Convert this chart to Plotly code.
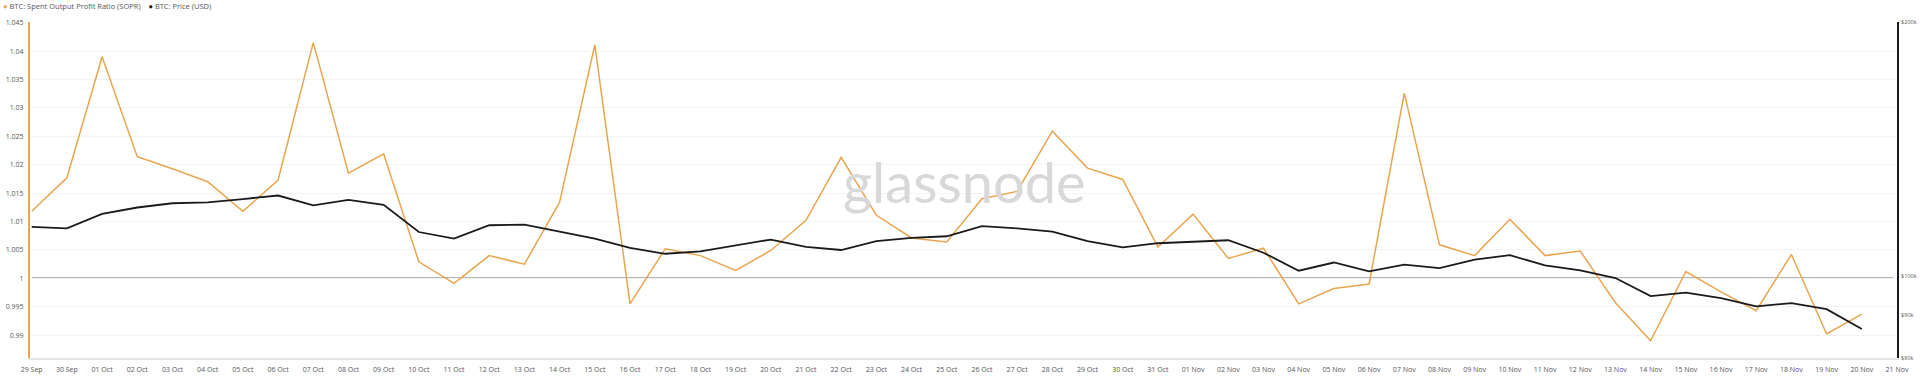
import plotly.graph_objects as go
import pandas as pd
import math

dates = pd.date_range("2025-09-29", "2025-11-20", freq="D")

sopr = [1.0118, 1.0177, 1.0390, 1.0214, 1.0193, 1.0170, 1.0118, 1.0173, 1.0415,
        1.0185, 1.0219, 1.0029, 0.9991, 1.0040, 1.0025, 1.0134, 1.0411, 0.9955,
        1.0052, 1.0040, 1.0014, 1.0049, 1.0102, 1.0213, 1.0111, 1.0071, 1.0064,
        1.0140, 1.0153, 1.0259, 1.0194, 1.0174, 1.0055, 1.0113, 1.0035, 1.0053,
        0.9955, 0.9982, 0.9990, 1.0326, 1.0059, 1.0040, 1.0104, 1.0040, 1.0048,
        0.9957, 0.9890, 1.0012, 0.9976, 0.9943, 1.0042, 0.9902, 0.9937]

price = [114400, 113900, 118500, 120600, 122000, 122300, 123400, 124600, 121300,
         123100, 121500, 112800, 110800, 114900, 115100, 112900, 110800, 108000,
         106300, 107000, 108800, 110500, 108300, 107400, 110000, 111000, 111500,
         114600, 113900, 112900, 110000, 108200, 109400, 109900, 110300, 106600,
         101500, 103800, 101300, 103200, 102200, 104600, 105900, 103000, 101600,
         99500, 94700, 95600, 94200, 92100, 92900, 91400, 86600]

sopr_ticks = [0.99, 0.995, 1.0, 1.005, 1.01, 1.015, 1.02, 1.025, 1.03, 1.035, 1.04, 1.045]
sopr_tick_text = ["0.99", "0.995", "1", "1.005", "1.01", "1.015", "1.02", "1.025",
                  "1.03", "1.035", "1.04", "1.045"]
price_ticks = [80000, 90000, 100000, 200000]
price_tick_text = ["$80k", "$90k", "$100k", "$200k"]

ORANGE = "#e9a54e"
BLACK = "#1a1a1a"
FONT = "Open Sans"

fig = go.Figure()
fig.add_trace(go.Scatter(x=dates, y=sopr, mode="lines", name="BTC: Spent Output Profit Ratio (SOPR)",
                         line=dict(color=ORANGE, width=1.5), yaxis="y", showlegend=False))
fig.add_trace(go.Scatter(x=dates, y=price, mode="lines", name="BTC: Price (USD)",
                         line=dict(color=BLACK, width=1.8), yaxis="y2", showlegend=False))

fig.add_shape(type="line", xref="paper", yref="y", x0=0.001, x1=0.998, y0=1, y1=1,
              line=dict(color="#6b6b6b", width=1.5), layer="below")

fig.update_layout(
    width=1920, height=380,
    margin=dict(l=30, r=23, t=22, b=22, autoexpand=False),
    paper_bgcolor="white", plot_bgcolor="white",
    font=dict(family=FONT, size=7, color="#555555"),
    xaxis=dict(
        range=[pd.Timestamp("2025-09-28 22:50"), pd.Timestamp("2025-11-21 00:00")],
        tickvals=pd.date_range("2025-09-29", "2025-11-21", freq="D"),
        tickformat="%d %b", automargin=False,
        showgrid=False, showline=True, linecolor="#e4e4e4", linewidth=2,
        ticks="outside", ticklen=4, tickcolor="rgba(0,0,0,0)",
        tickfont=dict(size=7, color="#555555"), zeroline=False,
    ),
    yaxis=dict(
        range=[0.98597, 1.04513], automargin=False,
        tickvals=sopr_ticks, ticktext=sopr_tick_text,
        showgrid=True, gridcolor="#f3f3f3", gridwidth=1,
        showline=True, linecolor=ORANGE, linewidth=2,
        ticks="outside", ticklen=3, tickcolor="rgba(0,0,0,0)",
        tickfont=dict(size=7, color="#555555"), zeroline=False,
    ),
    yaxis2=dict(
        type="log", overlaying="y", side="right", automargin=False,
        range=[math.log10(80000), math.log10(200000)],
        tickvals=price_ticks, ticktext=price_tick_text,
        showgrid=False, showline=True, linecolor=BLACK, linewidth=2,
        ticks="outside", ticklen=1, tickcolor="rgba(0,0,0,0)",
        tickfont=dict(size=5.5, color="#555555"), zeroline=False,
    ),
)

fig.add_annotation(xref="paper", yref="paper", x=0.5005, y=0.525, text="glassnode",
                   showarrow=False, font=dict(family="Lato", size=56, color="#d8d8d8"),
                   xanchor="center", yanchor="middle")

fig.add_annotation(xref="paper", yref="paper", x=-0.0157, y=1.049, xanchor="left", yanchor="middle",
                   showarrow=False, align="left",
                   text=f"<span style='color:{ORANGE}'>●</span> BTC: Spent Output Profit Ratio (SOPR)"
                        f"&nbsp;&nbsp;&nbsp;&nbsp;<span style='color:{BLACK}'>●</span> BTC: Price (USD)",
                   font=dict(family=FONT, size=7.5, color="#555555"))

fig.write_html("out.html")
